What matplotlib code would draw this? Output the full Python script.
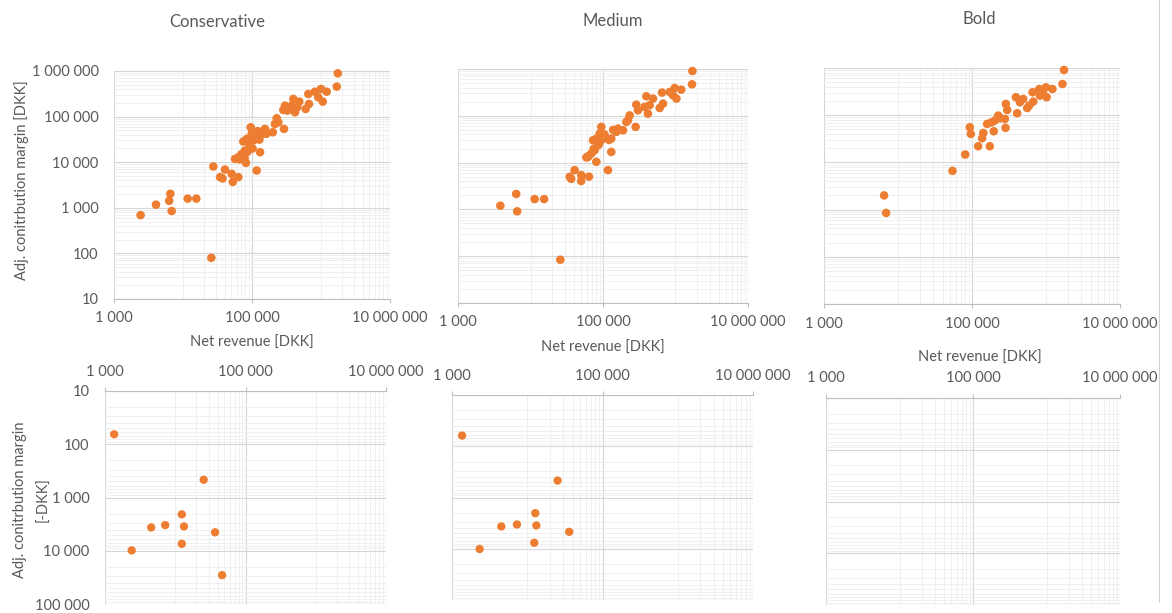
import matplotlib.pyplot as plt
from matplotlib.ticker import FixedLocator, FuncFormatter, NullFormatter
from matplotlib.lines import Line2D

plt.rcParams['font.family'] = ['Lato', 'DejaVu Sans']

# ==============================
# DATA
# ==============================

panels = ["Conservative", "Medium", "Bold"]

# positive margins: net revenue [DKK] vs adj. contribution margin [DKK]
cons_rev = [2430, 4060, 6550, 6300, 6850, 11700, 15600, 25700, 27500, 34400,
            37500, 40600, 52600, 50700, 63400, 56800, 63400, 70800, 79200, 81800,
            74800, 83700, 95700, 98900, 110000, 102000, 90000, 117000, 131000, 128000,
            143000, 154000, 120000, 162000, 200000, 215000, 228000, 241000, 291000, 284000,
            301000, 325000, 376000, 397000, 420000, 454000, 485000, 600000, 670000, 655000,
            818000, 914000, 1060000, 1000000, 1210000, 1690000, 1750000,
            88000, 93000, 105000, 113000, 100000, 86000, 78000, 66000, 140000]
cons_margin = [690, 1170, 2030, 1420, 850, 1590, 1590, 80, 8030, 4700,
               4400, 6900, 3700, 5560, 4700, 11800, 12900, 15200, 18000, 9660,
               28400, 32400, 58300, 41700, 35200, 20000, 26000, 6580, 16600, 31300,
               41700, 53700, 48000, 42000, 45400, 69000, 92000, 75100, 53700, 140000,
               174000, 135000, 174000, 244000, 124000, 160000, 213000, 147000, 189000, 313000,
               352000, 265000, 213000, 404000, 352000, 454000, 889000,
               30000, 22000, 30000, 42000, 38000, 17000, 12500, 11500, 47000]

med_rev = [3840, 6350, 6550, 11400, 15400, 25800, 34700, 36400, 40600, 50200,
           50000, 64000, 62100, 69000, 76700, 80900, 85300, 72800, 80900, 100000,
           90000, 94800, 117000, 130000, 130000, 153000, 161000, 189000, 282000, 210000,
           221000, 233000, 304000, 288000, 417000, 376000, 440000, 396000, 490000, 605000,
           673000, 924000, 1030000, 652000, 832000, 975000, 1200000, 1690000, 1710000,
           59000, 63000, 74000, 95000, 121000, 138000, 88000, 105000]
med_margin = [1200, 2140, 910, 1660, 1660, 84, 4970, 4500, 6900, 5400,
              4050, 5000, 13200, 15600, 18400, 10400, 23500, 30000, 32600, 35400,
              41700, 57800, 6900, 16900, 32600, 45300, 53300, 49100, 57800, 74000,
              80000, 102000, 131000, 173000, 111000, 155000, 168000, 261000, 233000, 147000,
              182000, 274000, 233000, 313000, 323000, 393000, 362000, 471000, 906000,
              12900, 13800, 19500, 30500, 30500, 50000, 25000, 40000]

bold_rev = [6490, 6900, 54500, 80900, 93500, 96400, 121000, 174000, 137000, 142000,
            197000, 284000, 160000, 184000, 204000, 243000, 226000, 278000, 299000, 287000,
            408000, 392000, 444000, 492000, 557000, 593000, 673000, 828000, 1020000, 918000,
            658000, 811000, 998000, 1220000, 1670000, 1750000]
bold_margin = [2000, 850, 6620, 14700, 55600, 40200, 22000, 22000, 32500, 42100,
               45700, 53800, 65300, 70800, 76800, 86100, 98000, 83300, 129000, 173000,
               110000, 240000, 188000, 221000, 142000, 160000, 194000, 260000, 240000, 282000,
               306000, 359000, 390000, 359000, 458000, 907000]

# negative margins (plotted as -DKK)
cons_neg_rev = [1350, 25400, 12400, 4540, 7200, 13300, 36900, 12400, 2400, 46400]
cons_neg_margin = [65, 464, 2070, 3650, 3300, 3490, 4510, 7410, 9860, 28700]

med_neg_rev = [1360, 25300, 12800, 4520, 7300, 13200, 36100, 12400, 2330]
med_neg_margin = [62, 467, 2020, 3670, 3360, 3510, 4670, 7640, 10100]

bold_neg_rev = []
bold_neg_margin = []

top_data = [(cons_rev, cons_margin), (med_rev, med_margin), (bold_rev, bold_margin)]
bottom_data = [(cons_neg_rev, cons_neg_margin), (med_neg_rev, med_neg_margin),
               (bold_neg_rev, bold_neg_margin)]

# ==============================
# STYLE
# ==============================

ORANGE = "#ED7D31"
TEXT = "#595959"
W, H = 1172, 613

x_major = [1e3, 1e5, 1e7]
x_minor = [k * 10 ** e for e in (4, 6) for k in range(1, 10)]
y_major = [10 ** e for e in range(1, 7)]
y_minor = [k * 10 ** e for e in range(1, 6) for k in range(2, 10)]


def thousands(v, pos=None):
    return f"{int(round(v)):,}".replace(",", " ")


def px_rect(left, right, top, bottom):
    return [left / W, 1 - bottom / H, (right - left) / W, (bottom - top) / H]


def style_axes(ax, bottom_row, show_y):
    ax.set_xscale("log")
    ax.set_yscale("log")
    ax.set_xlim(1e3, 1e7)
    if bottom_row:
        ax.set_ylim(1e5, 10)
    else:
        ax.set_ylim(10, 1e6)

    ax.xaxis.set_major_locator(FixedLocator(x_major))
    ax.xaxis.set_minor_locator(FixedLocator(x_minor))
    ax.yaxis.set_major_locator(FixedLocator(y_major))
    ax.yaxis.set_minor_locator(FixedLocator(y_minor))
    ax.xaxis.set_major_formatter(FuncFormatter(thousands))
    ax.xaxis.set_minor_formatter(NullFormatter())
    ax.yaxis.set_minor_formatter(NullFormatter())
    if show_y:
        ax.yaxis.set_major_formatter(FuncFormatter(thousands))
    else:
        ax.yaxis.set_major_formatter(NullFormatter())

    ax.grid(which="major", color="#D6D6D6", linewidth=0.8)
    ax.grid(which="minor", color="#EEEEEE", linewidth=0.6)
    ax.set_axisbelow(True)

    for s in ax.spines.values():
        s.set_visible(False)
    if bottom_row:
        ax.xaxis.tick_top()
        ax.spines["top"].set_visible(True)
        ax.spines["top"].set_color("#BFBFBF")
    else:
        ax.spines["bottom"].set_visible(True)
        ax.spines["bottom"].set_color("#BFBFBF")

    ax.tick_params(axis="x", which="major", length=3, color="#BFBFBF",
                   labelsize=10.5, labelcolor=TEXT, pad=6)
    ax.tick_params(axis="x", which="minor", length=0)
    ax.tick_params(axis="y", which="both", length=0, labelsize=10.5,
                   labelcolor=TEXT, pad=11)


# ==============================
# FIGURE
# ==============================

fig = plt.figure(figsize=(W / 100, H / 100), dpi=100)

top_rects = [px_rect(114, 390, 71, 299), px_rect(458, 748, 69, 303),
             px_rect(824, 1120, 68, 304)]
bottom_rects = [px_rect(105, 386, 391, 604), px_rect(452, 753, 395, 600),
                px_rect(826, 1120, 398, 605)]

title_pos = [(217, 22), (613, 21), (979, 19)]
xlabel_pos = [(252, 343), (603, 348), (980, 358)]

for i, name in enumerate(panels):
    ax = fig.add_axes(top_rects[i])
    style_axes(ax, bottom_row=False, show_y=(i == 0))
    rev, margin = top_data[i]
    ax.scatter(rev, margin, s=38, color=ORANGE, edgecolors="none", zorder=3,
               clip_on=False)

    axb = fig.add_axes(bottom_rects[i])
    style_axes(axb, bottom_row=True, show_y=(i == 0))
    rev, margin = bottom_data[i]
    if len(rev):
        axb.scatter(rev, margin, s=36, color=ORANGE, edgecolors="none", zorder=3)

    tx, ty = title_pos[i]
    fig.text(tx / W, 1 - ty / H, name, ha="center", va="center",
             fontsize=12, color=TEXT)
    lx, ly = xlabel_pos[i]
    fig.text(lx / W, 1 - ly / H, "Net revenue [DKK]", ha="center", va="center",
             fontsize=10.5, color=TEXT)

fig.text(22 / W, 1 - 180 / H, "Adj. conitrbution margin [DKK]", rotation=90,
         ha="center", va="center", fontsize=10.5, color=TEXT)
fig.text(20 / W, 1 - 500 / H, "Adj. conitrbution margin", rotation=90,
         ha="center", va="center", fontsize=10.5, color=TEXT)
fig.text(43 / W, 1 - 500 / H, "[-DKK]", rotation=90,
         ha="center", va="center", fontsize=10.5, color=TEXT)

# thin border on the right of the chart area
fig.add_artist(Line2D([1159 / W, 1159 / W], [1 - 602 / H, 1.0],
                      color="#D0D0D0", linewidth=0.8))

plt.savefig("out.png", dpi=100)
